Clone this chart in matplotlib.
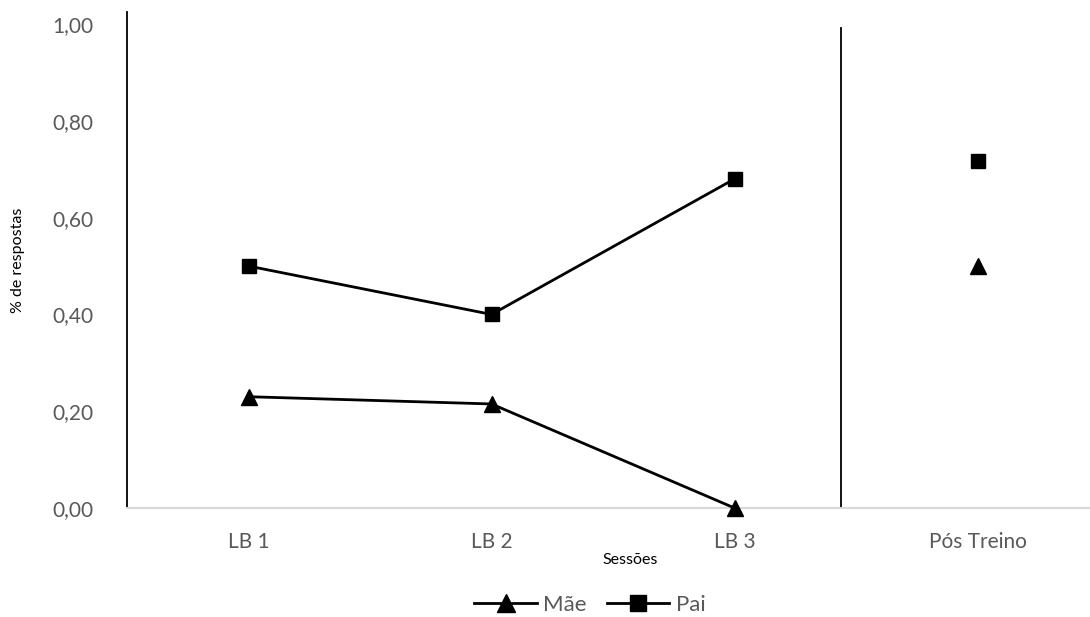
import matplotlib.pyplot as plt
from matplotlib.ticker import FuncFormatter

sessoes = ['LB 1', 'LB 2', 'LB 3', 'Pós Treino']
mae = [0.23, 0.215, 0.0, 0.50]
pai = [0.50, 0.40, 0.68, 0.717]
yticks = [0.0, 0.2, 0.4, 0.6, 0.8, 1.0]

plt.rcParams['font.family'] = ['Lato', 'DejaVu Sans']

fig = plt.figure(figsize=(10.9, 6.17), dpi=100)
ax = fig.add_axes([127 / 1090, 109 / 617, 972 / 1090, 496 / 617])

x = list(range(len(sessoes)))
# baseline points are joined, post-training point stands alone
ax.plot(x[:3], mae[:3], color='black', lw=2, marker='^', ms=11, label='Mãe', clip_on=False, zorder=4)
ax.plot(x[3:], mae[3:], color='black', lw=0, marker='^', ms=11, clip_on=False, zorder=4)
ax.plot(x[:3], pai[:3], color='black', lw=2, marker='s', ms=10, label='Pai', zorder=4)
ax.plot(x[3:], pai[3:], color='black', lw=0, marker='s', ms=10, zorder=4)

# phase divider
ax.plot([2.44, 2.44], [0, 0.992], color='black', lw=1.3)

ax.set_xlim(-0.5, 3.5)
ax.set_ylim(0, 1.025)
ax.set_xticks(x)
ax.set_xticklabels(sessoes)
ax.set_yticks(yticks)
ax.yaxis.set_major_formatter(FuncFormatter(lambda v, p: f'{v:.2f}'.replace('.', ',')))
ax.tick_params(length=0, labelsize=15, labelcolor='#595959')
ax.tick_params(axis='x', pad=17)
ax.tick_params(axis='y', pad=24)

for s in ['top', 'right']:
    ax.spines[s].set_visible(False)
ax.spines['left'].set_color('black')
ax.spines['left'].set_linewidth(1.3)
ax.spines['bottom'].set_color('#d9d9d9')
ax.spines['bottom'].set_linewidth(1.5)

ax.set_ylabel('% de respostas', fontsize=11.5, labelpad=20)
fig.text(630 / 1090, 1 - 560 / 617, 'Sessões', fontsize=11.5, ha='center', va='center')

fig.legend(loc='center', bbox_to_anchor=(590 / 1090, 1 - 605 / 617), ncol=2,
           frameon=False, fontsize=16, labelcolor='#595959', handlelength=2.8,
           columnspacing=0.9, handletextpad=0.3, markerscale=1.15)

fig.savefig('out.png', dpi=100)
